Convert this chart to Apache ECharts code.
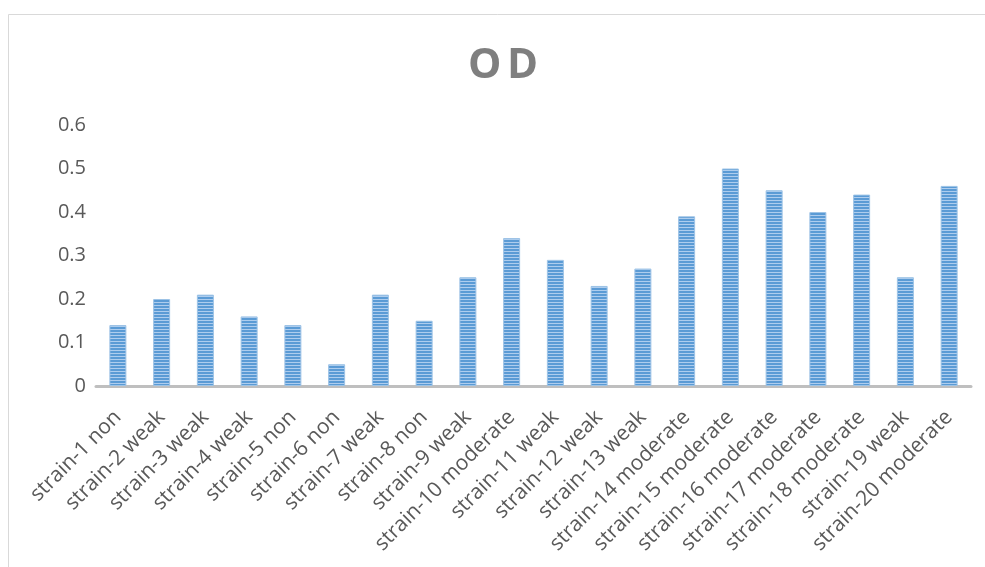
<!DOCTYPE html>
<html>
<head>
<meta charset="utf-8">
<script src="https://cdn.jsdelivr.net/npm/echarts@6/dist/echarts.min.js"></script>
<style>
  html, body { margin: 0; padding: 0; background: #fff; }
  #chart { width: 985px; height: 567px; }
</style>
</head>
<body>
<div id="chart"></div>
<script>
// OD readings per strain
const categories = [
  'strain-1 non', 'strain-2 weak', 'strain-3 weak', 'strain-4 weak', 'strain-5 non',
  'strain-6 non', 'strain-7 weak', 'strain-8 non', 'strain-9 weak', 'strain-10 moderate',
  'strain-11 weak', 'strain-12 weak', 'strain-13 weak', 'strain-14 moderate', 'strain-15 moderate',
  'strain-16 moderate', 'strain-17 moderate', 'strain-18 moderate', 'strain-19 weak', 'strain-20 moderate'
];
const odValues = [
  0.14, 0.20, 0.21, 0.16, 0.14,
  0.05, 0.21, 0.15, 0.25, 0.34,
  0.29, 0.23, 0.27, 0.39, 0.50,
  0.45, 0.40, 0.44, 0.25, 0.46
];
const yTicks = [0, 0.1, 0.2, 0.3, 0.4, 0.5, 0.6];

// horizontal striped fill for the bars
function stripePattern() {
  const c = document.createElement('canvas');
  c.width = 4; c.height = 3;
  const g = c.getContext('2d');
  g.fillStyle = '#5b9bd5';
  g.fillRect(0, 0, 4, 2);
  g.fillStyle = '#aecdee';
  g.fillRect(0, 2, 4, 1);
  return c;
}

const titleFont = 'bold 42px "Open Sans"';

const chart = echarts.init(document.getElementById('chart'), null, { renderer: 'canvas' });
chart.setOption({
  animation: false,
  backgroundColor: '#ffffff',
  graphic: [{
    type: 'rect',
    shape: { x: 8.5, y: 14.5, width: 990, height: 560 },
    style: { fill: 'none', stroke: '#d9d9d9', lineWidth: 1 },
    silent: true
  }, {
    // chart title, letters spaced apart
    type: 'text',
    left: 468,
    top: 45,
    style: { text: 'O', font: titleFont, fill: '#7f7f7f' },
    silent: true
  }, {
    type: 'text',
    left: 507,
    top: 45,
    style: { text: 'D', font: titleFont, fill: '#7f7f7f' },
    silent: true
  }],
  grid: { left: 96, right: 14, top: 125, bottom: 181, containLabel: false },
  xAxis: {
    type: 'category',
    data: categories,
    axisLine: { lineStyle: { color: '#bfbfbf', width: 3 } },
    axisTick: { show: false },
    axisLabel: {
      rotate: 45,
      interval: 0,
      margin: 28,
      fontFamily: 'Open Sans',
      fontSize: 21,
      color: '#595959'
    }
  },
  yAxis: {
    type: 'value',
    min: yTicks[0],
    max: yTicks[yTicks.length - 1],
    interval: 0.1,
    splitLine: { show: false },
    axisLine: { show: false },
    axisTick: { show: false },
    axisLabel: {
      margin: 10,
      fontFamily: 'Open Sans',
      fontSize: 20,
      color: '#595959',
      formatter: v => String(Math.round(v * 10) / 10)
    }
  },
  series: [{
    type: 'bar',
    data: odValues,
    barWidth: 17,
    itemStyle: {
      color: { image: stripePattern(), repeat: 'repeat' },
      borderColor: '#9dc3e6',
      borderWidth: 1
    }
  }]
});
</script>
</body>
</html>
